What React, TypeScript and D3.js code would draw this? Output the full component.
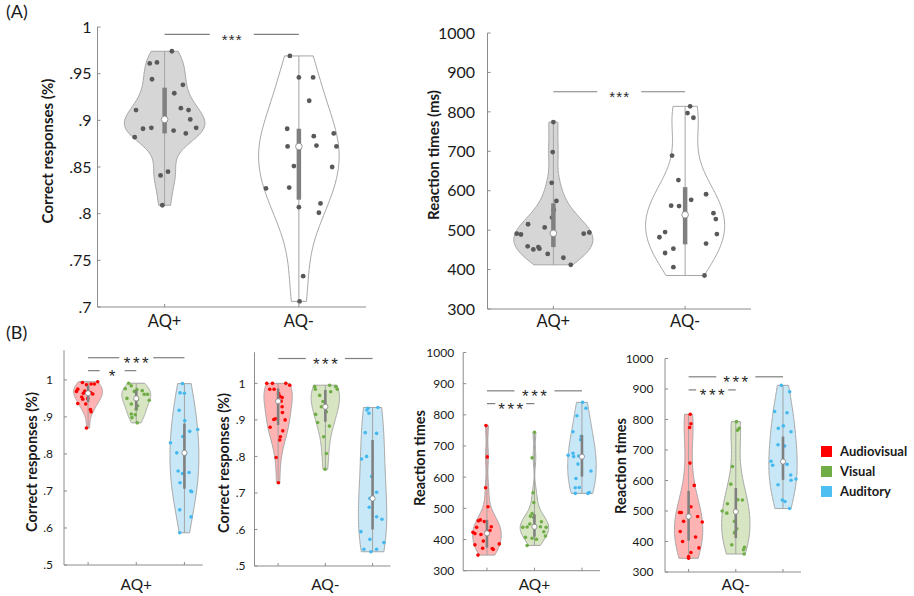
import React from 'react';
import * as d3 from 'd3';

// [value, horizontal jitter in category units]
type Pt = [number, number];

const GROUPS = ['AQ+', 'AQ-'];
const CONDITIONS = ['Audiovisual', 'Visual', 'Auditory'];
const CONDITION_DOTS = ['#ff0000', '#70ad47', '#45b8ee'];
const CONDITION_FILLS = ['#ffb3b3', '#d7e5c3', '#c8e8f8'];
const LEGEND_COLORS = ['#ff0000', '#70ad47', '#4dbff0'];

const ACC_TICKS_A = [0.7, 0.75, 0.8, 0.85, 0.9, 0.95, 1];
const ACC_TICKS_B = [0.5, 0.6, 0.7, 0.8, 0.9, 1];
const RT_TICKS = [300, 400, 500, 600, 700, 800, 900, 1000];

// ---- (A) correct responses ----
const A_ACC_AQP: Pt[] = [
  [0.974, 0.054], [0.961, -0.111], [0.962, -0.057], [0.944, -0.094], [0.938, 0.136],
  [0.929, 0.072], [0.911, -0.213], [0.913, 0.121], [0.911, 0.178], [0.901, 0.191],
  [0.891, -0.161], [0.892, -0.099], [0.889, 0.067], [0.892, 0.235], [0.882, -0.223],
  [0.886, 0.158], [0.841, -0.03], [0.845, 0.025], [0.809, -0.017],
];
const A_ACC_AQM: Pt[] = [
  [0.969, -0.067], [0.946, 0], [0.946, 0.106], [0.921, 0.077], [0.891, -0.087],
  [0.883, 0.111], [0.886, 0.26], [0.872, -0.084], [0.873, 0.131], [0.872, 0.28],
  [0.851, -0.037], [0.85, 0.248], [0.827, -0.245], [0.828, -0.072], [0.807, 0],
  [0.811, 0.161], [0.801, 0.149], [0.733, 0.032], [0.706, 0.005],
];
const A_ACC_BOX = [[0.886, 0.901, 0.935], [0.815, 0.872, 0.891]];

// ---- (A) reaction times ----
const A_RT_AQP: Pt[] = [
  [774, 0], [698, -0.005], [620, -0.013], [574, 0.023], [551, 0.003], [532, -0.01],
  [515, -0.192], [507, -0.066], [491, -0.278], [489, -0.246], [491, 0.23], [494, 0.273],
  [459, -0.195], [451, -0.152], [457, -0.114], [453, -0.106], [440, -0.043], [430, 0.076],
  [412, 0.132],
];
const A_RT_AQM: Pt[] = [
  [814, 0.038], [797, 0.018], [785, 0.063], [689, -0.099], [627, -0.051], [577, 0.046],
  [591, 0.159], [562, -0.106], [561, -0.046], [543, 0.215], [528, 0.233], [490, 0.241],
  [495, -0.152], [482, -0.195], [442, -0.152], [453, -0.089], [466, 0.159], [406, -0.089],
  [385, 0.147],
];
const A_RT_BOX = [[457, 492, 568], [464, 539, 609]];

// ---- (B) correct responses, AQ+ ----
const B_ACC_AQP_AV: Pt[] = [
  [0.993, -0.117], [0.987, -0.034], [0.989, 0.062], [0.989, 0.131], [0.995, 0.2],
  [0.975, -0.214], [0.969, -0.241], [0.97, -0.069], [0.966, 0.048], [0.964, -0.097],
  [0.962, 0.097], [0.954, -0.131], [0.95, -0.007], [0.948, -0.11], [0.936, -0.214],
  [0.935, -0.048], [0.92, 0.048], [0.914, 0.062], [0.87, -0.034],
];
const B_ACC_AQP_V: Pt[] = [
  [0.991, -0.159], [0.984, -0.103], [0.976, -0.228], [0.974, 0.014], [0.969, -0.041],
  [0.971, 0.124], [0.961, 0.234], [0.961, 0.166], [0.95, -0.193], [0.947, 0.021],
  [0.945, 0.269], [0.935, -0.103], [0.93, 0.028], [0.921, 0], [0.908, -0.103],
  [0.906, -0.021], [0.898, -0.09], [0.884, 0.021],
];
const B_ACC_AQP_A: Pt[] = [
  [0.99, -0.041], [0.965, -0.09], [0.964, 0], [0.918, -0.11], [0.89, 0.007],
  [0.866, 0.276], [0.861, 0.11], [0.83, -0.29], [0.847, -0.034], [0.803, -0.159],
  [0.797, 0.007], [0.754, -0.131], [0.722, -0.09], [0.75, 0.097], [0.747, -0.041],
  [0.7, 0.131], [0.698, 0.152], [0.649, -0.097], [0.63, 0.138], [0.587, -0.097],
];
const B_ACC_AQP_BOX = [[0.94, 0.964, 0.985], [0.92, 0.95, 0.972], [0.706, 0.803, 0.882]];

// ---- (B) correct responses, AQ- ----
const B_ACC_AQM_AV: Pt[] = [
  [1.0, -0.24], [1.0, -0.12], [1.0, 0.163], [0.995, 0.247], [0.984, -0.177],
  [0.984, -0.085], [0.972, 0.01], [0.965, 0.035], [0.961, 0.085], [0.951, 0.064],
  [0.936, 0.085], [0.92, 0.092], [0.903, -0.057], [0.901, -0.092], [0.9, 0.148],
  [0.88, -0.17], [0.87, 0.099], [0.854, 0.049], [0.845, 0.035], [0.797, -0.042],
  [0.728, 0.007],
];
const B_ACC_AQM_V: Pt[] = [
  [0.995, 0.092], [0.991, -0.226], [0.991, 0.219], [0.984, -0.212], [0.984, 0.254],
  [0.977, 0.113], [0.967, -0.12], [0.95, -0.049], [0.938, -0.007], [0.936, -0.085],
  [0.922, 0.021], [0.915, -0.205], [0.893, -0.163], [0.883, 0.085], [0.854, -0.035],
  [0.808, 0.021], [0.765, -0.007],
];
const B_ACC_AQM_A: Pt[] = [
  [0.934, 0.113], [0.932, -0.099], [0.927, -0.12], [0.918, -0.078], [0.865, -0.155],
  [0.863, 0.085], [0.8, -0.127], [0.793, -0.233], [0.745, -0.021], [0.702, 0.085],
  [0.685, -0.057], [0.661, -0.071], [0.635, 0.085], [0.628, 0.198], [0.594, -0.247],
  [0.573, -0.057], [0.564, 0.24], [0.546, -0.184], [0.546, 0.085], [0.539, -0.035],
];
const B_ACC_AQM_BOX = [[0.886, 0.951, 0.986], [0.895, 0.936, 0.982], [0.6, 0.685, 0.845]];

// ---- (B) reaction times, AQ+ ----
const B_RT_AQP_AV: Pt[] = [
  [766, -0.021], [665, 0.007], [566, -0.028], [505, 0.021], [463, -0.14], [460, -0.182],
  [458, -0.056], [441, 0.091], [423, -0.295], [419, -0.253], [439, -0.218], [416, -0.126],
  [429, 0.063], [395, -0.077], [383, -0.253], [386, 0.26], [372, -0.091], [371, 0.112],
  [368, 0.133], [350, -0.189],
];
const B_RT_AQP_V: Pt[] = [
  [744, 0], [662, -0.049], [550, -0.028], [519, -0.014], [483, -0.049], [475, -0.084],
  [471, -0.014], [457, 0.147], [450, -0.098], [442, 0.007], [439, -0.246], [439, 0.246],
  [440, -0.154], [441, 0.126], [425, 0.196], [411, 0.232], [407, -0.189], [404, -0.049],
  [401, 0.042], [381, -0.154],
];
const B_RT_AQP_A: Pt[] = [
  [840, 0.014], [821, 0.084], [797, -0.105], [746, -0.189], [731, -0.014], [720, -0.028],
  [670, -0.29], [677, -0.189], [666, -0.175], [668, -0.07], [642, -0.084], [620, 0.189],
  [596, -0.126], [567, -0.056], [566, -0.14], [548, -0.14], [551, 0.154], [548, 0.126],
];
const B_RT_AQP_BOX = [[374, 420, 463], [409, 441, 481], [602, 666, 735]];

// ---- (B) reaction times, AQ- ----
const B_RT_AQM_AV: Pt[] = [
  [817, 0.035], [786, 0.049], [774, 0.021], [657, 0.028], [584, 0.12], [514, 0.049],
  [495, -0.191], [495, -0.155], [482, 0.191], [466, -0.106], [464, 0.29], [433, -0.177],
  [415, 0.148], [400, -0.127], [379, 0.219], [364, 0.049], [351, 0], [345, 0],
];
const B_RT_AQM_V: Pt[] = [
  [793, 0.014], [771, 0.071], [765, 0.035], [646, -0.071], [588, -0.106], [524, -0.177],
  [537, 0.042], [536, 0.141], [500, -0.29], [493, -0.191], [466, -0.028], [442, 0.021],
  [432, -0.014], [428, -0.028], [389, -0.085], [381, 0.184], [373, 0.163], [359, 0.177],
];
const B_RT_AQM_A: Pt[] = [
  [912, -0.035], [891, 0.141], [826, -0.177], [822, 0.085], [779, 0.007], [771, -0.099],
  [760, 0.17], [717, -0.106], [713, 0.035], [663, -0.254], [650, -0.219], [653, 0.085],
  [618, 0.163], [605, 0.276], [601, 0.17], [586, -0.106], [536, -0.014], [531, 0.042],
  [508, 0.141],
];
const B_RT_AQM_BOX = [[403, 482, 566], [411, 498, 575], [602, 662, 744]];

// significance bars: from category a to b at a y level
interface Sig { a: number; b: number; level: number; label: string; gap: number; }
const A_ACC_SIG: Sig[] = [{ a: 1, b: 2, level: 0.992, label: '***', gap: 22 }];
const A_RT_SIG: Sig[] = [{ a: 1, b: 2, level: 851, label: '***', gap: 22 }];
const B_ACC_AQP_SIG: Sig[] = [
  { a: 1, b: 3, level: 1.06, label: '***', gap: 17 },
  { a: 1, b: 2, level: 1.025, label: '*', gap: 12.5 },
];
const B_ACC_AQM_SIG: Sig[] = [{ a: 1, b: 3, level: 1.068, label: '***', gap: 19.5 }];
const B_RT_AQP_SIG: Sig[] = [
  { a: 1, b: 3, level: 877, label: '***', gap: 20 },
  { a: 1, b: 2, level: 836, label: '***', gap: 15.5 },
];
const B_RT_AQM_SIG: Sig[] = [
  { a: 1, b: 3, level: 940, label: '***', gap: 19.5 },
  { a: 1, b: 2, level: 897, label: '***', gap: 16 },
];

const FONT = "Lato, 'Open Sans', sans-serif";
const STAR_FONT = "'Liberation Sans', Arial, sans-serif";
const AXIS = '#8c8c8c';
const TEXT = '#1a1a1a';

const fmtAcc = (v: number) => (v >= 1 ? '1' : d3.format('.2~f')(v).replace(/^0/, ''));
const fmtRt = d3.format('d');

interface Violin { pts: Pt[]; box: number[]; fill: string; dot: string; }

interface PanelSpec {
  x0: number; x1: number; axisEnd: number;
  yDom: [number, number]; yPx: [number, number]; axisTop: number;
  ticks: number[]; fmt: (v: number) => string; tickFs: number; tickGap: number;
  ylabel: string; ylabelX: number; ylabelY: number; ylabelFs: number;
  xlabels: { text: string; idx: number }[]; xlabelY: number; xlabelFs: number;
  violins: Violin[];
  sig: Sig[]; sigFs: number; sigSpacing: number;
  dotR: number; medR: number; boxW: number;
}

// kernel density (normal kernel, ksdensity-style bandwidth), truncated at data range
function violinProfile(values: number[]): [number, number][] {
  const v = values.slice().sort(d3.ascending);
  const n = v.length;
  const med = d3.median(v)!;
  let sig = d3.median(v, (d) => Math.abs(d - med))! / 0.6745;
  if (!sig) sig = d3.deviation(v) || 1;
  const h = sig * Math.pow(4 / (3 * n), 0.2);
  const lo = v[0];
  const hi = v[n - 1];
  const grid = d3.range(101).map((i) => lo + ((hi - lo) * i) / 100);
  const dens = grid.map((g) => d3.sum(v, (d) => Math.exp(-0.5 * ((g - d) / h) ** 2)));
  const m = d3.max(dens)!;
  return grid.map((g, i) => [g, dens[i] / m]);
}

function ViolinPanel({ spec }: { spec: PanelSpec }) {
  const n = spec.violins.length;
  const x = d3.scaleLinear().domain([0.5, n + 0.5]).range([spec.x0, spec.x1]);
  const y = d3.scaleLinear().domain(spec.yDom).range(spec.yPx);
  const hw = x(1.3) - x(1);
  const yBase = y(spec.yDom[0]);

  return (
    <g>
      {spec.violins.map((vl, i) => {
        const cx = x(i + 1);
        const values = vl.pts.map((p) => p[0]);
        const prof = violinProfile(values);
        const area = d3
          .area<[number, number]>()
          .y((d) => y(d[0]))
          .x0((d) => cx - d[1] * hw)
          .x1((d) => cx + d[1] * hw);
        const [q1, med, q3] = vl.box;
        return (
          <g key={i}>
            <path d={area(prof) || ''} fill={vl.fill} stroke="#a6a6a6" strokeWidth={1} />
            <line x1={cx} x2={cx} y1={y(d3.max(values)!)} y2={y(d3.min(values)!)} stroke="#a3a3a3" strokeWidth={1} />
            {vl.pts.map((p, j) => (
              <circle key={j} cx={x(i + 1 + p[1])} cy={y(p[0])} r={spec.dotR} fill={vl.dot} />
            ))}
            <line x1={cx} x2={cx} y1={y(q3)} y2={y(q1)} stroke="#808080" strokeWidth={spec.boxW} />
            <circle cx={cx} cy={y(med)} r={spec.medR} fill="#ffffff" stroke="#808080" strokeWidth={0.8} />
          </g>
        );
      })}

      {/* axes */}
      <line x1={spec.x0} x2={spec.x0} y1={yBase} y2={y(spec.axisTop)} stroke={AXIS} strokeWidth={1} />
      <line x1={spec.x0} x2={x(spec.axisEnd)} y1={yBase} y2={yBase} stroke={AXIS} strokeWidth={1} />
      {spec.ticks.map((t) => (
        <g key={t}>
          <line x1={spec.x0} x2={spec.x0 + 3} y1={y(t)} y2={y(t)} stroke={AXIS} strokeWidth={1} />
          <text
            x={spec.x0 - spec.tickGap}
            y={y(t)}
            dy="0.36em"
            textAnchor="end"
            fontSize={spec.tickFs}
            fill={TEXT}
          >
            {spec.fmt(t)}
          </text>
        </g>
      ))}
      {d3.range(1, n + 1).map((c) => (
        <line key={c} x1={x(c)} x2={x(c)} y1={yBase} y2={yBase - 3} stroke={AXIS} strokeWidth={1} />
      ))}
      {spec.xlabels.map((l) => (
        <text key={l.text} x={x(l.idx)} y={spec.xlabelY} textAnchor="middle" fontSize={spec.xlabelFs} fill={TEXT}>
          {l.text}
        </text>
      ))}
      <text
        transform={`translate(${spec.ylabelX},${spec.ylabelY}) rotate(-90)`}
        dy="0.36em"
        textAnchor="middle"
        fontSize={spec.ylabelFs}
        fontWeight="bold"
        fill={TEXT}
      >
        {spec.ylabel}
      </text>

      {/* significance */}
      {spec.sig.map((s, k) => {
        const xa = x(s.a);
        const xb = x(s.b);
        const mid = (xa + xb) / 2;
        const yy = y(s.level);
        return (
          <g key={k}>
            <line x1={xa} x2={mid - s.gap} y1={yy} y2={yy} stroke="#7f7f7f" strokeWidth={1.2} />
            <line x1={mid + s.gap} x2={xb} y1={yy} y2={yy} stroke="#7f7f7f" strokeWidth={1.2} />
            <text
              x={mid + spec.sigSpacing / 2}
              y={yy + 1.5 + spec.sigFs * 0.57}
              textAnchor="middle"
              fontFamily={STAR_FONT}
              fontSize={spec.sigFs}
              letterSpacing={spec.sigSpacing}
              fill="#2a2a2a"
            >
              {s.label}
            </text>
          </g>
        );
      })}
    </g>
  );
}

const grayViolins = (pts: Pt[][], box: number[][]): Violin[] =>
  pts.map((p, i) => ({ pts: p, box: box[i], fill: i === 0 ? '#d6d6d6' : '#ffffff', dot: '#595959' }));

const condViolins = (pts: Pt[][], box: number[][]): Violin[] =>
  pts.map((p, i) => ({ pts: p, box: box[i], fill: CONDITION_FILLS[i], dot: CONDITION_DOTS[i] }));

const A_COMMON = {
  axisEnd: 2.5, tickFs: 16, ylabelFs: 15, xlabelY: 327, xlabelFs: 16.5,
  sigFs: 15, sigSpacing: 1.2, dotR: 2.4, medR: 3.3, boxW: 4.5,
  xlabels: GROUPS.map((g, i) => ({ text: g, idx: i + 1 })),
};

const B_COMMON = {
  axisEnd: 3.38, tickFs: 12, ylabelFs: 14.5, xlabelY: 590, xlabelFs: 15.5,
  sigFs: 17, sigSpacing: 2.5, dotR: 1.8, medR: 2.6, boxW: 2.6,
};

const PANELS: PanelSpec[] = [
  {
    ...A_COMMON, x0: 97.5, x1: 366, yDom: [0.7, 1], yPx: [307, 27], axisTop: 1,
    ticks: ACC_TICKS_A, fmt: fmtAcc, tickGap: 6,
    ylabel: 'Correct responses (%)', ylabelX: 48, ylabelY: 151,
    violins: grayViolins([A_ACC_AQP, A_ACC_AQM], A_ACC_BOX), sig: A_ACC_SIG,
  },
  {
    ...A_COMMON, x0: 487.5, x1: 751, yDom: [300, 1000], yPx: [309, 33], axisTop: 1000,
    ticks: RT_TICKS, fmt: fmtRt, tickGap: 12.5,
    ylabel: 'Reaction times (ms)', ylabelX: 434, ylabelY: 155,
    violins: grayViolins([A_RT_AQP, A_RT_AQM], A_RT_BOX), sig: A_RT_SIG,
  },
  {
    ...B_COMMON, x0: 64, x1: 208.5, yDom: [0.5, 1.08], yPx: [565, 350.3], axisTop: 1.08,
    ticks: ACC_TICKS_B, fmt: fmtAcc, tickGap: 11,
    ylabel: 'Correct responses (%)', ylabelX: 32, ylabelY: 462,
    xlabels: [{ text: GROUPS[0], idx: 2 }],
    violins: condViolins([B_ACC_AQP_AV, B_ACC_AQP_V, B_ACC_AQP_A], B_ACC_AQP_BOX), sig: B_ACC_AQP_SIG,
  },
  {
    ...B_COMMON, x0: 254.5, x1: 396.2, yDom: [0.5, 1.085], yPx: [566, 352.3], axisTop: 1.085,
    ticks: ACC_TICKS_B, fmt: fmtAcc, tickGap: 9,
    ylabel: 'Correct responses (%)', ylabelX: 224, ylabelY: 463,
    xlabels: [{ text: GROUPS[1], idx: 2 }],
    violins: condViolins([B_ACC_AQM_AV, B_ACC_AQM_V, B_ACC_AQM_A], B_ACC_AQM_BOX), sig: B_ACC_AQM_SIG,
  },
  {
    ...B_COMMON, x0: 463.2, x1: 605.7, yDom: [300, 1000], yPx: [570.7, 352.5], axisTop: 1000,
    ticks: RT_TICKS, fmt: fmtRt, tickGap: 9,
    ylabel: 'Reaction times', ylabelX: 419.5, ylabelY: 458,
    xlabels: [{ text: GROUPS[0], idx: 2 }],
    violins: condViolins([B_RT_AQP_AV, B_RT_AQP_V, B_RT_AQP_A], B_RT_AQP_BOX), sig: B_RT_AQP_SIG,
  },
  {
    ...B_COMMON, x0: 665, x1: 806.6, yDom: [300, 1000], yPx: [572, 358.5], axisTop: 1000,
    ticks: RT_TICKS, fmt: fmtRt, tickGap: 11.5,
    ylabel: 'Reaction times', ylabelX: 621, ylabelY: 466,
    xlabels: [{ text: GROUPS[1], idx: 2 }],
    violins: condViolins([B_RT_AQM_AV, B_RT_AQM_V, B_RT_AQM_A], B_RT_AQM_BOX), sig: B_RT_AQM_SIG,
  },
];

export default function App() {
  return (
    <svg
      width={914}
      height={596}
      style={{ position: 'absolute', left: 0, top: 0, background: '#ffffff' }}
      fontFamily={FONT}
    >
      <rect width={914} height={596} fill="#ffffff" />
      <text x={6} y={18} fontSize={18} fill={TEXT}>(A)</text>
      <text x={6} y={339} fontSize={18} fill={TEXT}>(B)</text>

      {PANELS.map((p, i) => (
        <ViolinPanel key={i} spec={p} />
      ))}

      {/* legend */}
      {CONDITIONS.map((c, i) => (
        <g key={c} transform={`translate(821,${446 + i * 20})`}>
          <rect width={11} height={11} fill={LEGEND_COLORS[i]} />
          <text x={19} y={5.5} dy="0.36em" fontSize={13} fontWeight="bold" fill={TEXT}>
            {c}
          </text>
        </g>
      ))}
    </svg>
  );
}
